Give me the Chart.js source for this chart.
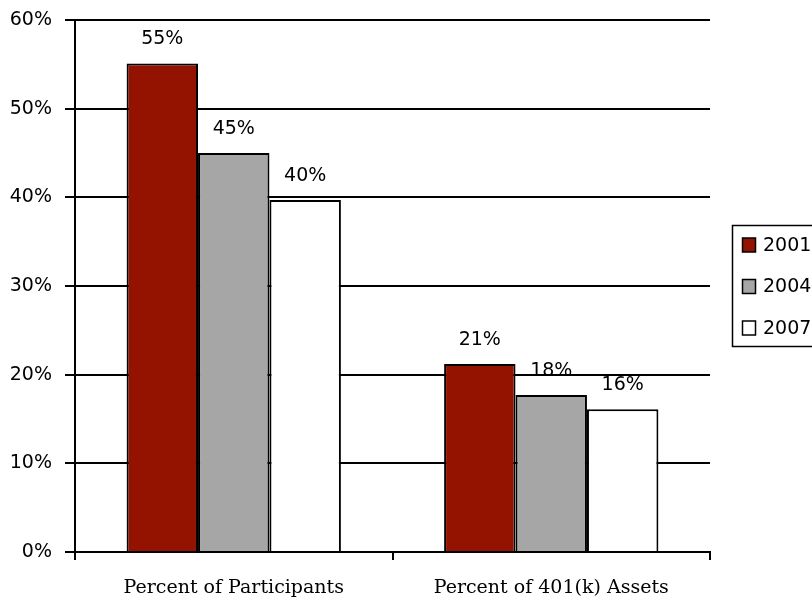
<!DOCTYPE html>
<html>
<head>
<meta charset="utf-8">
<title>401(k) participants and assets</title>
<script src="https://cdn.jsdelivr.net/npm/chart.js@4"></script>
<style>
  html, body { margin: 0; padding: 0; background: #fff; overflow: hidden; }
  #chart { display: block; }
</style>
</head>
<body>
<canvas id="chart" width="812" height="602"></canvas>
<script>
// Data
const categories = ['Percent of Participants', 'Percent of 401(k) Assets'];
const years = ['2001', '2004', '2007'];
const values2001 = [55.1, 21.2];
const values2004 = [45.0, 17.7];
const values2007 = [39.7, 16.1];
const labels2001 = ['55%', '21%'];
const labels2004 = ['45%', '18%'];
const labels2007 = ['40%', '16%'];
const yTicks = [0, 10, 20, 30, 40, 50, 60];

const colors = ['#941300', '#a6a6a6', '#ffffff'];
const barLabels = [labels2001, labels2004, labels2007];

// value labels above each bar
const valueLabels = {
    id: 'valueLabels',
    afterDatasetsDraw(chart) {
        const ctx = chart.ctx;
        ctx.save();
        ctx.font = '19px "DejaVu Sans"';
        ctx.fillStyle = '#000';
        ctx.textAlign = 'center';
        ctx.textBaseline = 'alphabetic';
        chart.data.datasets.forEach((ds, i) => {
            chart.getDatasetMeta(i).data.forEach((bar, j) => {
                ctx.fillText(barLabels[i][j], bar.x, bar.y - 19);
            });
        });
        ctx.restore();
    }
};

// boxed legend on the right, partly cut off by the edge
const boxLegend = {
    id: 'boxLegend',
    afterDraw(chart) {
        const ctx = chart.ctx;
        const x = 732.5, y = 225.5;
        ctx.save();
        ctx.fillStyle = '#fff';
        ctx.fillRect(x, y, 110, 121);
        ctx.strokeStyle = '#000';
        ctx.lineWidth = 1.5;
        ctx.strokeRect(x, y, 110, 121);
        ctx.font = '19px "DejaVu Sans"';
        ctx.textBaseline = 'middle';
        chart.data.datasets.forEach((ds, i) => {
            const cy = 245 + i * 41.5;
            ctx.fillStyle = ds.backgroundColor;
            ctx.fillRect(742.5, cy - 7, 13, 14);
            ctx.lineWidth = 1.5;
            ctx.strokeRect(742.5, cy - 7, 13, 14);
            ctx.fillStyle = '#000';
            ctx.fillText(ds.label, 763, cy + 1);
        });
        ctx.restore();
    }
};

new Chart(document.getElementById('chart'), {
    type: 'bar',
    data: {
        labels: categories,
        datasets: [
            { label: years[0], data: values2001, backgroundColor: colors[0] },
            { label: years[1], data: values2004, backgroundColor: colors[1] },
            { label: years[2], data: values2007, backgroundColor: colors[2] }
        ].map(d => Object.assign(d, {
            borderColor: '#000',
            borderWidth: 2,
            categoryPercentage: 0.675,
            barPercentage: 1
        }))
    },
    options: {
        responsive: false,
        animation: false,
        layout: { padding: { top: 20, right: 102, left: 0, bottom: 0 } },
        plugins: {
            legend: { display: false },
            tooltip: { enabled: false }
        },
        scales: {
            x: {
                afterFit(scale) { scale.height = 50; },
                grid: {
                    offset: true,
                    drawOnChartArea: false,
                    drawTicks: true,
                    tickLength: 8,
                    color: '#000',
                    lineWidth: 2
                },
                border: { display: true, color: '#000', width: 2 },
                ticks: {
                    color: '#000',
                    font: { family: '"DejaVu Serif"', size: 19 },
                    padding: 17
                }
            },
            y: {
                min: 0,
                max: 60,
                afterFit(scale) {
                    scale.width = 75;
                    scale.paddingTop = 0;
                    scale.paddingBottom = 0;
                },
                afterBuildTicks(scale) {
                    scale.ticks = yTicks.map(v => ({ value: v }));
                },
                grid: {
                    color: '#000',
                    lineWidth: 2,
                    drawTicks: true,
                    tickLength: 10
                },
                border: { display: true, color: '#000', width: 2 },
                ticks: {
                    color: '#000',
                    font: { family: '"DejaVu Sans"', size: 19 },
                    padding: 13,
                    callback: v => v + '%'
                }
            }
        }
    },
    plugins: [valueLabels, boxLegend]
});
</script>
</body>
</html>
